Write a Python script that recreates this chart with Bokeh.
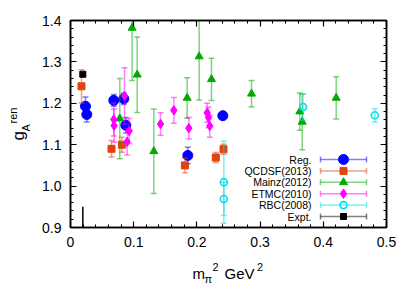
import numpy as np
from bokeh.plotting import figure
from bokeh.models import (ColumnDataSource, Label, LinearAxis, FixedTicker,
                          CustomJSTickFormatter, Range1d)
from bokeh.core.properties import value
from bokeh.embed import file_html
from bokeh.resources import INLINE

# ---------------- data ----------------
reg_x = [0.0237, 0.0258, 0.0685, 0.0843, 0.0875, 0.1856, 0.2410]
reg_y = [1.193, 1.173, 1.207, 1.211, 1.147, 1.074, 1.170]
reg_e = [0.022, 0.018, 0.014, 0.014, 0.019, 0.020, 0.005]

qcdsf_x = [0.0174, 0.0649, 0.0812, 0.1810, 0.2299, 0.2421]
qcdsf_y = [1.241, 1.090, 1.100, 1.050, 1.069, 1.089]
qcdsf_e = [0.040, 0.020, 0.018, 0.018, 0.012, 0.012]

mainz_x = [0.0780, 0.0975, 0.1055, 0.1318, 0.1846, 0.2036, 0.2231, 0.2864, 0.3628, 0.3666, 0.4204]
mainz_y = [1.163, 1.382, 1.269, 1.084, 1.213, 1.313, 1.258, 1.223, 1.180, 1.155, 1.213]
mainz_e = [0.097, 0.127, 0.091, 0.102, 0.049, 0.105, 0.051, 0.032, 0.045, 0.067, 0.051]

etmc_x = [0.0685, 0.0690, 0.0854, 0.0896, 0.0928, 0.1424, 0.1635, 0.1872, 0.2162, 0.2184, 0.2204]
etmc_y = [1.161, 1.146, 1.218, 1.107, 1.133, 1.150, 1.183, 1.140, 1.177, 1.166, 1.145]
etmc_e = [0.040, 0.040, 0.068, 0.032, 0.030, 0.027, 0.031, 0.026, 0.023, 0.025, 0.027]

rbc_x = [0.2426, 0.2426, 0.3680, 0.4815]
rbc_y = [1.0095, 0.969, 1.191, 1.171]
rbc_e = [0.099, 0.040, 0.032, 0.016]

expt_x = [0.0195]
expt_y = [1.2701]
expt_e = [0.0025]

phys_x = [0.0195]
phys_y0 = [0.90]
phys_y1 = [0.95]

series_names = ["Reg.", "QCDSF(2013)", "Mainz(2012)", "ETMC(2010)", "RBC(2008)", "Expt."]

x_ticks = [0.0, 0.1, 0.2, 0.3, 0.4, 0.5]
x_tick_labels = ["0", "0.1", "0.2", "0.3", "0.4", "0.5"]
y_ticks = [0.9, 1.0, 1.1, 1.2, 1.3, 1.4]
y_tick_labels = ["0.9", "1.0", "1.1", "1.2", "1.3", "1.4"]

# ---------------- layout / styles ----------------
FONT = "Liberation Sans"
X0, X1, Y0, Y1 = 0.0, 0.5, 0.9, 1.4
FL, FT, FW, FH = 70, 20, 316, 207   # frame position on the page (px)

styles = [
    dict(marker="circle", color="#0000ff", size=10, fill=True),
    dict(marker="square", color="#e0440e", size=7, fill=True),
    dict(marker="triangle", color="#00aa00", size=8, fill=True),
    dict(marker="diamond", color="#ff00ff", size=9.5, fill=True),
    dict(marker="circle", color="#00e0e8", size=7, fill=False),
    dict(marker="square", color="#000000", size=6, fill=True),
]
datasets = [
    (reg_x, reg_y, reg_e),
    (qcdsf_x, qcdsf_y, qcdsf_e),
    (mainz_x, mainz_y, mainz_e),
    (etmc_x, etmc_y, etmc_e),
    (rbc_x, rbc_y, rbc_e),
    (expt_x, expt_y, expt_e),
]


def px2data(px, py):
    """page pixel -> data coordinates (for placing decorations)"""
    return (X0 + (px - FL) * (X1 - X0) / FW, Y1 - (py - FT) * (Y1 - Y0) / FH)


p = figure(frame_width=FW, frame_height=FH,
           min_border_left=FL, min_border_right=28,
           min_border_top=FT, min_border_bottom=64,
           x_range=Range1d(X0, X1), y_range=Range1d(Y0, Y1),
           output_backend="svg", toolbar_location=None,
           background_fill_color="white", border_fill_color="white")
p.xgrid.visible = False
p.ygrid.visible = False
p.outline_line_color = "black"
p.outline_line_width = 1.5

x_minor = [round(v, 2) for v in np.arange(0, 0.5001, 0.02)]
y_minor = [round(v, 2) for v in np.arange(0.9, 1.4001, 0.02)]
xt = FixedTicker(ticks=x_ticks, minor_ticks=x_minor)
yt = FixedTicker(ticks=y_ticks, minor_ticks=y_minor)


def style_axis(ax, ticker, labels=None, standoff=9):
    ax.ticker = ticker
    ax.axis_line_width = 1.5
    ax.axis_line_color = "black"
    ax.major_tick_in = 6
    ax.major_tick_out = 0
    ax.minor_tick_in = 3
    ax.minor_tick_out = 0
    ax.major_tick_line_width = 1.2
    ax.minor_tick_line_width = 1.0
    ax.major_label_standoff = standoff
    if labels is None:
        ax.formatter = CustomJSTickFormatter(code="return ''")
        ax.major_label_text_font_size = "0px"
        ax.major_label_standoff = 0
    else:
        ax.major_label_overrides = labels
        ax.major_label_text_font = FONT
        ax.major_label_text_font_size = "14px"
        ax.major_label_text_color = "black"


style_axis(p.xaxis[0], xt, {t: l for t, l in zip(x_ticks, x_tick_labels)}, 9)
style_axis(p.yaxis[0], yt, {t: l for t, l in zip(y_ticks, y_tick_labels)}, 9)
top_ax = LinearAxis()
right_ax = LinearAxis()
p.add_layout(top_ax, "above")
p.add_layout(right_ax, "right")
style_axis(top_ax, xt)
style_axis(right_ax, yt)

CAP = 6


def draw_series(xs, ys, es, st):
    xs = np.array(xs); ys = np.array(ys); es = np.array(es)
    src = ColumnDataSource(dict(x=xs, y=ys, lo=ys - es, hi=ys + es))
    p.segment(x0="x", y0="lo", x1="x", y1="hi", source=src,
              line_color=st["color"], line_alpha=0.5, line_width=1.5)
    p.scatter(x="x", y="lo", source=src, marker="dash", size=CAP,
              line_color=st["color"], line_alpha=0.5, line_width=1.5)
    p.scatter(x="x", y="hi", source=src, marker="dash", size=CAP,
              line_color=st["color"], line_alpha=0.5, line_width=1.5)
    if st["fill"]:
        p.scatter(x="x", y="y", source=src, marker=st["marker"], size=st["size"],
                  fill_color=st["color"], line_color=st["color"], line_width=1)
    else:
        p.scatter(x="x", y="y", source=src, marker=st["marker"], size=st["size"],
                  fill_color=None, line_color=st["color"], line_width=1.6)


# physical point marker line
p.segment(x0=phys_x, y0=phys_y0, x1=phys_x, y1=phys_y1,
          line_color="black", line_width=1.5)

for (xs, ys, es), st in zip(datasets, styles):
    draw_series(xs, ys, es, st)

# ---------------- legend (label left, error-bar sample right) ----------------
LEG_XL, LEG_TOP = px2data(320, 159)
LEG_XR, _ = px2data(366, 159)
LEG_XM, _ = px2data(343, 159)
LEG_TX, _ = px2data(311, 159)
LEG_STEP = 11.4 * (Y1 - Y0) / FH
for i, (name, st) in enumerate(zip(series_names, styles)):
    yy = LEG_TOP - i * LEG_STEP
    p.segment(x0=[LEG_XL], y0=[yy], x1=[LEG_XR], y1=[yy],
              line_color=st["color"], line_alpha=0.5, line_width=1.5)
    p.scatter(x=[LEG_XL, LEG_XR], y=[yy, yy], marker="dash", angle=np.pi / 2,
              size=CAP, line_color=st["color"], line_alpha=0.5, line_width=1.5)
    if st["fill"]:
        p.scatter(x=[LEG_XM], y=[yy], marker=st["marker"], size=st["size"],
                  fill_color=st["color"], line_color=st["color"])
    else:
        p.scatter(x=[LEG_XM], y=[yy], marker=st["marker"], size=st["size"],
                  fill_color=None, line_color=st["color"], line_width=1.6)
    p.text(x=[LEG_TX], y=[yy], text=[name], text_align="right",
           text_baseline="middle", text_font=value(FONT),
           text_font_size="10.5px", text_color="black")


# ---------------- axis titles built from pieces ----------------
# Labels are placed in side panels (so they are not clipped to the frame);
# their positions still go through the plot's data scales.
def lab(px, py, t, size, side, angle=0.0):
    x, y = px2data(px, py)
    p.add_layout(Label(x=x, y=y, text=t, angle=angle, text_font=FONT,
                       text_font_size=size, text_color="black",
                       text_align="left", text_baseline="alphabetic"), side)


# y title: g_A^ren (rotated)
lab(18, 140, "g", "17px", "left", np.pi / 2)
lab(12.5, 123, "ren", "11px", "left", np.pi / 2)
lab(25.5, 131, "A", "11px", "right", np.pi / 2)

# x title: m_π^2 GeV^2
lab(192, 273.3, "m", "15px", "below")
lab(224, 273.3, "GeV", "15px", "below")
lab(204, 278.5, "π", "11px", "right")
lab(212, 266, "2", "11px", "above")
lab(256.5, 266, "2", "11px", "right")

open("out.html", "w").write(file_html(p, INLINE))
